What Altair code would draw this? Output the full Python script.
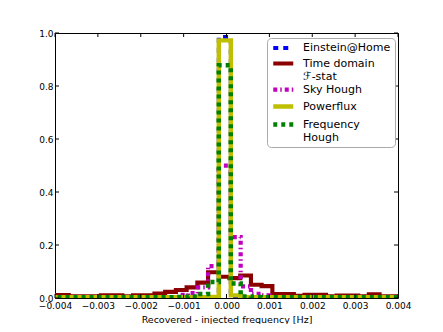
import altair as alt
import pandas as pd

# ---- data ----
series_names = ["Einstein@Home", "Time domain|\u00a0\u2131-stat", "Sky Hough", "Powerflux", "Frequency|\u00a0Hough"]
series_colors = ["#0000ff", "#8b0000", "#bf00bf", "#bfbf00", "#008000"]
series_dash = [[5, 5], [1, 0], [4, 3, 1.5, 3], [1, 0], [4, 4]]
series_width = [4, 4.5, 2.5, 3.5, 4]

# bin edges of the fine-binned histograms
fine_edges = [-0.0045, -0.0011, -0.0009, -0.00067, -0.00043, -0.00018, 0.0001,
              0.00033, 0.00057, 0.0008, 0.001, 0.0045]
einstein_vals = [0.002, 0.002, 0.002, 0.002, 0.004, 0.985, 0.004, 0.002, 0.002, 0.002, 0.002]
skyhough_vals = [0.003, 0.012, 0.018, 0.04, 0.12, 0.5, 0.23, 0.044, 0.016, 0.01, 0.003]
powerflux_vals = [0.003, 0.003, 0.003, 0.003, 0.004, 0.972, 0.01, 0.003, 0.003, 0.003, 0.003]
freqhough_vals = [0.003, 0.004, 0.006, 0.015, 0.06, 0.878, 0.055, 0.006, 0.004, 0.003, 0.003]

# bin edges of the time-domain F-stat histogram
fstat_edges = [-0.0045, -0.00368, -0.00293, -0.00243, -0.00218, -0.00168, -0.00143,
               -0.00118, -0.00093, -0.00068, -0.00043, -0.00018, 0.00007, 0.00032,
               0.00057, 0.00082, 0.00107, 0.00157, 0.00182, 0.00232, 0.00257,
               0.00307, 0.00332, 0.00357, 0.0045]
fstat_vals = [0.011, 0.006, 0.01, 0.006, 0.01, 0.017, 0.023, 0.03, 0.04, 0.058, 0.097,
              0.08, 0.075, 0.085, 0.05, 0.045, 0.015, 0.008, 0.012, 0.006, 0.009,
              0.006, 0.014, 0.006]

x_ticks = [-0.004, -0.003, -0.002, -0.001, 0.0, 0.001, 0.002, 0.003, 0.004]
y_ticks = [0.0, 0.2, 0.4, 0.6, 0.8, 1.0]

hist_defs = [
    (series_names[0], fine_edges, einstein_vals),
    (series_names[1], fstat_edges, fstat_vals),
    (series_names[2], fine_edges, skyhough_vals),
    (series_names[3], fine_edges, powerflux_vals),
    (series_names[4], fine_edges, freqhough_vals),
]

W, H = 343, 265

color_scale = alt.Scale(domain=series_names, range=series_colors)
dash_scale = alt.Scale(domain=series_names, range=series_dash)
width_scale = alt.Scale(domain=series_names, range=series_width)

xscale = alt.Scale(domain=[-0.004, 0.004], nice=False, zero=False)
yscale = alt.Scale(domain=[0, 1], nice=False)

layers = []
for name, edges, vals in hist_defs:
    rows = []
    for i, v in enumerate(vals):
        rows.append({"x": edges[i], "y": v, "series": name, "o": i})
    rows.append({"x": edges[-1], "y": vals[-1], "series": name, "o": len(vals)})
    df = pd.DataFrame(rows)
    layer = alt.Chart(df).mark_line(interpolate="step-after", clip=True, strokeCap="butt").encode(
        x=alt.X("x:Q", scale=xscale,
                axis=alt.Axis(values=x_ticks, format=".3f", title="Recovered - injected frequency [Hz]",
                              grid=False, ticks=False, domain=False, labelPadding=3,
                              labelFontSize=9, titleFontSize=9.5, titleFontWeight="normal",
                              titlePadding=4, labelColor="black", titleColor="black",
                              labelFlush=False)),
        y=alt.Y("y:Q", scale=yscale,
                axis=alt.Axis(values=y_ticks, format=".1f", title=None, grid=False, ticks=False,
                              domain=False, labelPadding=2, labelFontSize=9, labelColor="black",
                              labelFlush=False)),
        order="o:Q",
        color=alt.Color("series:N", scale=color_scale, title=None,
                        legend=alt.Legend(orient="none", legendX=212, legendY=5,
                                          direction="vertical",
                                          labelExpr="split(datum.label, '|')")),
        strokeDash=alt.StrokeDash("series:N", scale=dash_scale, title=None),
        strokeWidth=alt.StrokeWidth("series:N", scale=width_scale, title=None),
    )
    layers.append(layer)

# inward tick marks, matplotlib style
xt = pd.DataFrame({"v": x_ticks})
yt = pd.DataFrame({"v": y_ticks})
tick_bottom = alt.Chart(xt).mark_rule(color="black", strokeWidth=1).encode(
    x=alt.X("v:Q", scale=xscale), y=alt.value(H), y2=alt.value(H - 4))
tick_top = alt.Chart(xt).mark_rule(color="black", strokeWidth=1).encode(
    x=alt.X("v:Q", scale=xscale), y=alt.value(0), y2=alt.value(4))
tick_left = alt.Chart(yt).mark_rule(color="black", strokeWidth=1).encode(
    y=alt.Y("v:Q", scale=yscale), x=alt.value(0), x2=alt.value(4))
tick_right = alt.Chart(yt).mark_rule(color="black", strokeWidth=1).encode(
    y=alt.Y("v:Q", scale=yscale), x=alt.value(W), x2=alt.value(W - 4))

chart = alt.layer(*layers, tick_bottom, tick_top, tick_left, tick_right).properties(
    width=W, height=H,
    autosize=alt.AutoSizeParams(type="none"),
    padding={"left": 47, "top": 25, "right": 37, "bottom": 26},
).configure(
    font="DejaVu Sans",
).configure_view(
    stroke="black", strokeWidth=1,
).configure_legend(
    symbolType="M-1.06,0H3.94", symbolSize=64, symbolStrokeWidth=4,
    labelFontSize=11, labelFont="DejaVu Sans", labelColor="black", labelOffset=19,
    padding=4, rowPadding=-1, strokeColor="#aaaaaa", fillColor="white",
    cornerRadius=4, labelLimit=200,
)

chart.save("out.html", embed_options={"renderer": "svg", "actions": False})
